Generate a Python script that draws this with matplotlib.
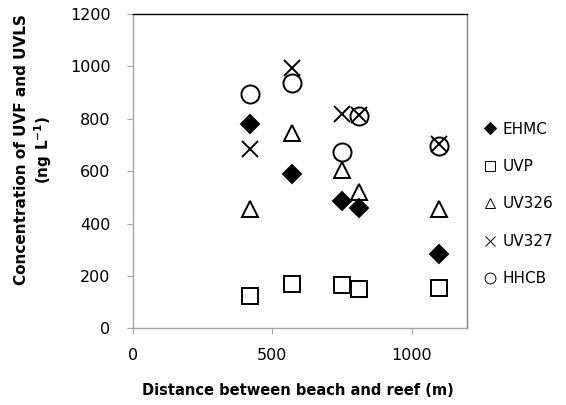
import matplotlib
matplotlib.use('Agg')
import matplotlib.pyplot as plt

plt.rcParams['font.family'] = ['DejaVu Sans']

dist = [420, 570, 750, 810, 1100]
ehmc = [780, 590, 485, 460, 285]
uvp = [125, 170, 165, 150, 155]
uv326 = [455, 745, 605, 520, 455]
uv327 = [685, 995, 820, 815, 705]
hhcb = [895, 935, 675, 810, 695]

series = [('EHMC', ehmc, 'D', 9.5, 'k'),
          ('UVP', uvp, 's', 11, 'none'),
          ('UV326', uv326, '^', 12, 'none'),
          ('UV327', uv327, 'x', 12, 'none'),
          ('HHCB', hhcb, 'o', 13, 'none')]

fig = plt.figure(figsize=(5.66, 4.05), dpi=100)
ax = fig.add_axes([0.2355, 0.1894, 0.59, 0.776])

for name, vals, mk, ms, fc in series:
    ax.plot(dist, vals, linestyle='none', marker=mk, markersize=ms,
            markerfacecolor=fc, markeredgecolor='k', markeredgewidth=1.4,
            label=name)

ax.set_xlim(0, 1200)
ax.set_ylim(0, 1200)
ax.set_xticks([0, 500, 1000])
ax.set_yticks(range(0, 1201, 200))

grey = '#a6a6a6'
ax.spines['left'].set_color(grey)
ax.spines['bottom'].set_color(grey)
ax.spines['top'].set_color('k')
ax.spines['right'].set_color('#808080')
for s in ax.spines.values():
    s.set_linewidth(1.0)
ax.tick_params(axis='y', direction='out', length=4.5, color=grey, pad=12, labelsize=11.5)
ax.tick_params(axis='x', direction='out', length=4.5, color=grey, pad=10, labelsize=11.5)

fig.text(0.527, 0.037, 'Distance between beach and reef (m)', ha='center', va='center',
         fontsize=10.5, fontweight='bold')
fig.text(0.06, 0.63, 'Concentration of UVF and UVLS\n(ng L$^{\\mathbf{-1}}$)', rotation=90,
         ha='center', va='center', multialignment='center', fontsize=11,
         fontweight='bold', linespacing=1.25)

leg = fig.legend(loc='upper left', bbox_to_anchor=(0.845, 0.715), frameon=False,
                 markerscale=0.6, fontsize=11, labelspacing=1.47, handlelength=0.8,
                 handletextpad=0.4, borderaxespad=0)
for h in leg.legend_handles:
    h.set_markeredgewidth(0.7)

fig.savefig('out.png', dpi=100)
